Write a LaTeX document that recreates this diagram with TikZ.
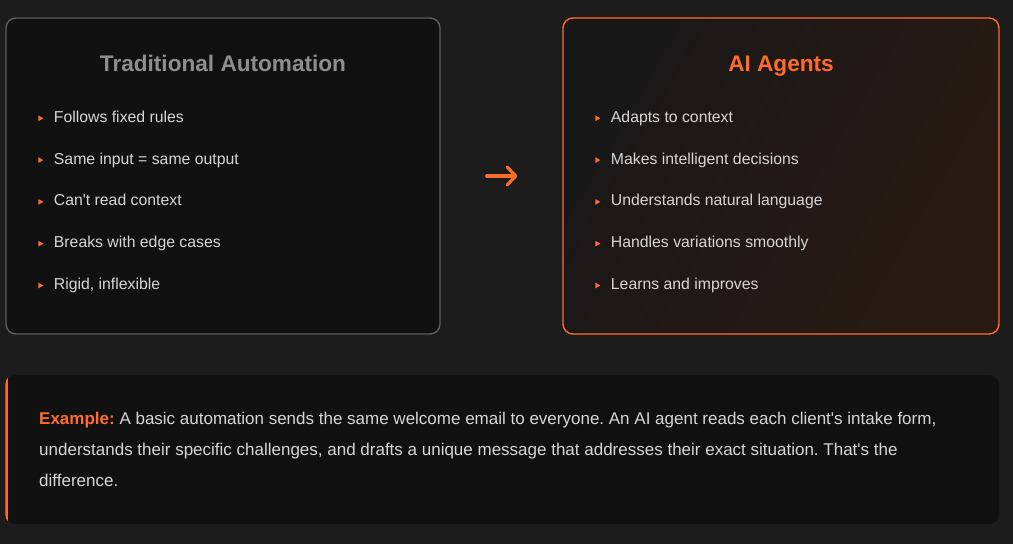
\documentclass[tikz,border=0pt]{standalone}
\usepackage{fontspec}
\setmainfont{Liberation Sans}
\usepackage{xcolor}
\usetikzlibrary{
  arrows.meta,
  positioning,
  shapes.geometric,
  calc,
  backgrounds
}
\definecolor{PageBg}{HTML}{1C1C1C}
\definecolor{CardBg}{HTML}{111111}
\definecolor{CardEdge}{HTML}{5E5E5E}
\definecolor{AgentOrange}{HTML}{FF6B2C}
\definecolor{TitleGrey}{HTML}{8E8E8E}
\definecolor{ItemText}{HTML}{D6D6D6}
\definecolor{AgentDark}{HTML}{181818}
\definecolor{AgentWarm}{HTML}{2A1A14}

\tikzset{
  card/.style={rounded corners=10pt, line width=1.4pt, inner sep=0pt},
  cardtitle/.style={font=\fontsize{22.6}{27}\selectfont\bfseries, inner sep=0pt,
    text height=16pt, text depth=0pt},
  bulletmark/.style={isosceles triangle, isosceles triangle apex angle=60,
    fill=AgentOrange, inner sep=0pt, minimum size=5pt},
  itemtext/.style={font=\fontsize{15.8}{19}\selectfont, text=ItemText,
    inner sep=0pt, anchor=west, text height=11pt, text depth=3pt},
  flowarrow/.style={AgentOrange, line width=3.2pt, line cap=round,
    -{Straight Barb[length=8.5pt, width=18pt, round]}}
}

\begin{document}
\frenchspacing
\begin{tikzpicture}[x=1pt, y=-1pt]
  \fill[PageBg] (0,0) rectangle (1013,544);

  % left card
  \node[card, draw=CardEdge, fill=CardBg, minimum width=434pt, minimum height=316pt]
    (trad) at (223,176) {};
  \node[cardtitle, text=TitleGrey] (tradtitle) at (223,63) {Traditional Automation};
  \foreach \txt [count=\i] in {Follows fixed rules, Same input = same output,
      Can\textquotesingle t read context, Breaks with edge cases, {Rigid, inflexible}}{
    \node[bulletmark] (tradb\i) at (40, 76.5+41.8*\i) {};
    \node[itemtext, right=10pt of tradb\i] (tradi\i) {\txt};
  }

  % right card
  \node[card, draw=AgentOrange, left color=AgentDark, right color=AgentWarm,
    shading angle=60, minimum width=436pt, minimum height=316pt]
    (agents) at (781,176) {};
  \node[cardtitle, text=AgentOrange] (agentstitle) at (781,63) {AI Agents};
  \foreach \txt [count=\i] in {Adapts to context, Makes intelligent decisions,
      Understands natural language, Handles variations smoothly, Learns and improves}{
    \node[bulletmark] (agentb\i) at (597, 76.5+41.8*\i) {};
    \node[itemtext, right=10pt of agentb\i] (agenti\i) {\txt};
  }

  \draw[flowarrow] ([xshift=46pt]trad.east) -- ([xshift=-45pt]agents.west);

  % example box
  \node[card, fill=CardBg, minimum width=993pt, minimum height=149pt]
    (example) at (502.5,449.5) {};
  \begin{scope}
    \clip[rounded corners=10pt] (example.south west) rectangle (example.north east);
    \fill[AgentOrange] (example.south west) rectangle ([xshift=3pt]example.north west);
  \end{scope}
  \node[anchor=north west, inner sep=0pt, align=left, text=ItemText,
    font=\fontsize{17}{31}\selectfont] (exampletext) at (39,412)
    {\textcolor{AgentOrange}{\bfseries Example:} A basic automation sends the same welcome email to everyone. An AI agent reads each client\textquotesingle s intake form,\\
     understands their specific challenges, and drafts a unique message that addresses their exact situation. That\textquotesingle s the\\
     difference.};
\end{tikzpicture}
\end{document}
